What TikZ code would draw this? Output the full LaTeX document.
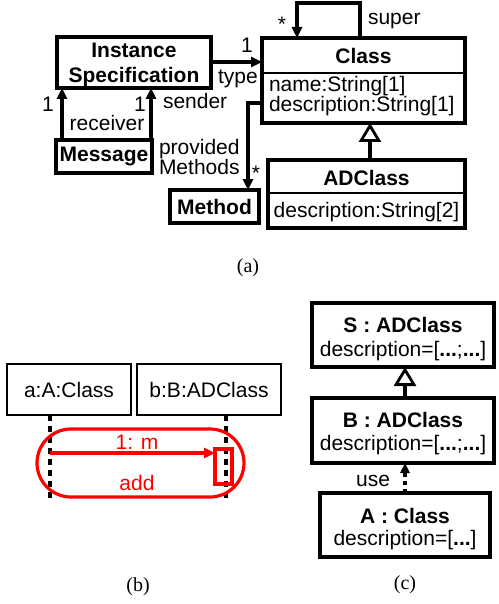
\documentclass[tikz,border=0pt]{standalone}
\usepackage{fontspec}
\setmainfont{Liberation Sans}
\newfontfamily\capfont{Liberation Serif}
\usetikzlibrary{arrows.meta}
\definecolor{ured}{RGB}{255,0,0}
\begin{document}
\begin{tikzpicture}[x=1pt,y=-1pt,
  every node/.style={inner sep=0pt, outer sep=0pt, font=\fontsize{21}{17}\selectfont},
  box/.style={draw, line width=3.4pt, rectangle},
  thinbox/.style={draw, line width=2.8pt, rectangle},
  conn/.style={line width=3.2pt, -{Triangle[length=11pt,width=10pt]}},
  gen/.style={line width=3.2pt, -{Triangle[open,length=19pt,width=22pt,line width=2.8pt]}},
  captxt/.style={font=\capfont\fontsize{20}{22}\selectfont},
  lifeline/.style={line width=3.2pt, dash pattern=on 6pt off 5pt},
  bold/.style={font=\bfseries\fontsize{21}{17}\selectfont},
]
\useasboundingbox (0,0) rectangle (498,604);

% ---------- (a) ----------
\node[box, minimum width=154pt, minimum height=51pt] (is) at (134,62.5) {};
\node[align=center, font=\bfseries\fontsize{21}{25}\selectfont] (istxt) at (134,65) {Instance\\Specification};
\node[box, minimum width=96pt, minimum height=33pt, bold] (msg) at (104,156.5) {Message};
\node[box, minimum width=89pt, minimum height=33pt, bold] (meth) at (214.5,206.5) {Method};

\node[box, minimum width=203pt, minimum height=85pt] (cls) at (363.5,80.5) {};
\draw[line width=2.2pt] (262,73) -- (465,73);
\node[bold] (clsname) at (363.5,56) {Class};
\node[anchor=west, align=left] (clsattr) at (269,96) {name:String[1]\\description:String[1]};

\node[box, minimum width=197pt, minimum height=68pt] (adc) at (366.5,194) {};
\draw[line width=2.2pt] (268,193) -- (465,193);
\node[bold] (adcname) at (366.5,178) {ADClass};
\node (adcattr) at (366.5,212) {description:String[2]};

% connectors (a)
\draw[conn] (62,140) -- (62,88);
\draw[conn] (151,140) -- (151,88);
\node (m1) at (48,104) {1};
\node (m2) at (140,104) {1};
\node (recv) at (107,123) {receiver};
\node[anchor=west] (send) at (163,101) {sender};

\draw[conn] (211,62) -- (262,62);
\node (m3) at (247,45) {1};
\node (typ) at (238,79) {type};

\coordinate (loopA) at (360,3);
\coordinate (loopB) at (297,3);
\draw[conn] (360,38) -- (loopA) -- (loopB) -- (297,38);
\node (m4) at (282,24) {*};
\node[anchor=west] (sup) at (368,21) {super};

\coordinate (pmA) at (248,103);
\draw[conn] (262,103) -- (pmA) -- (248,190);
\node[anchor=west, align=left] (prov) at (159,157) {provided\\Methods};
\node (m5) at (256,173) {*};

\draw[gen] (370,160) -- (370,123);

\node[captxt] (capa) at (248,268) {(a)};

% ---------- (b) ----------
\node[thinbox, minimum width=124pt, minimum height=51pt] (oa) at (69,389.5) {a:A:Class};
\node[thinbox, minimum width=144pt, minimum height=51pt] (ob) at (209,389.5) {b:B:ADClass};
\draw[lifeline] (50,415) -- (50,500);
\draw[lifeline] (226,415) -- (226,500);
\draw[ured, line width=3.2pt, rounded corners=34pt] (37,429) rectangle (244,497);
\node[draw=ured, line width=3.2pt, minimum width=17pt, minimum height=35pt] (act) at (223.5,466.5) {};
\draw[ured, line width=3.2pt, -{Triangle[length=11pt,width=10pt]}] (50,453) -- (215,453);
\node[text=ured] (msgm) at (137,442) {1: m};
\node[text=ured] (addl) at (137,483) {add};

\node[captxt] (capb) at (138,587) {(b)};

% ---------- (c) ----------
\node[box, minimum width=182pt, minimum height=64pt] (s) at (403,335) {};
\node[bold] (sname) at (403,325) {S : ADClass};
\node (sattr) at (403,351) {description=[\textbf{...};\textbf{...}]};

\node[box, minimum width=182pt, minimum height=65pt] (b) at (403,430.5) {};
\node[bold] (bname) at (403,420) {B : ADClass};
\node (battr) at (403,445) {description=[\textbf{...};\textbf{...}]};

\node[draw, line width=4pt, minimum width=170pt, minimum height=64pt] (a) at (405,525) {};
\node[bold] (aname) at (405,516) {A : Class};
\node (aattr) at (405,540) {description=[\textbf{...}]};

\draw[gen] (405,398) -- (405,367);
\draw[line width=3.2pt, dash pattern=on 4pt off 4pt, -{Triangle[length=10pt,width=9pt]}] (405,493) -- (405,463);
\node (use) at (373,481) {use};

\node[captxt] (capc) at (405,585) {(c)};
\end{tikzpicture}
\end{document}
